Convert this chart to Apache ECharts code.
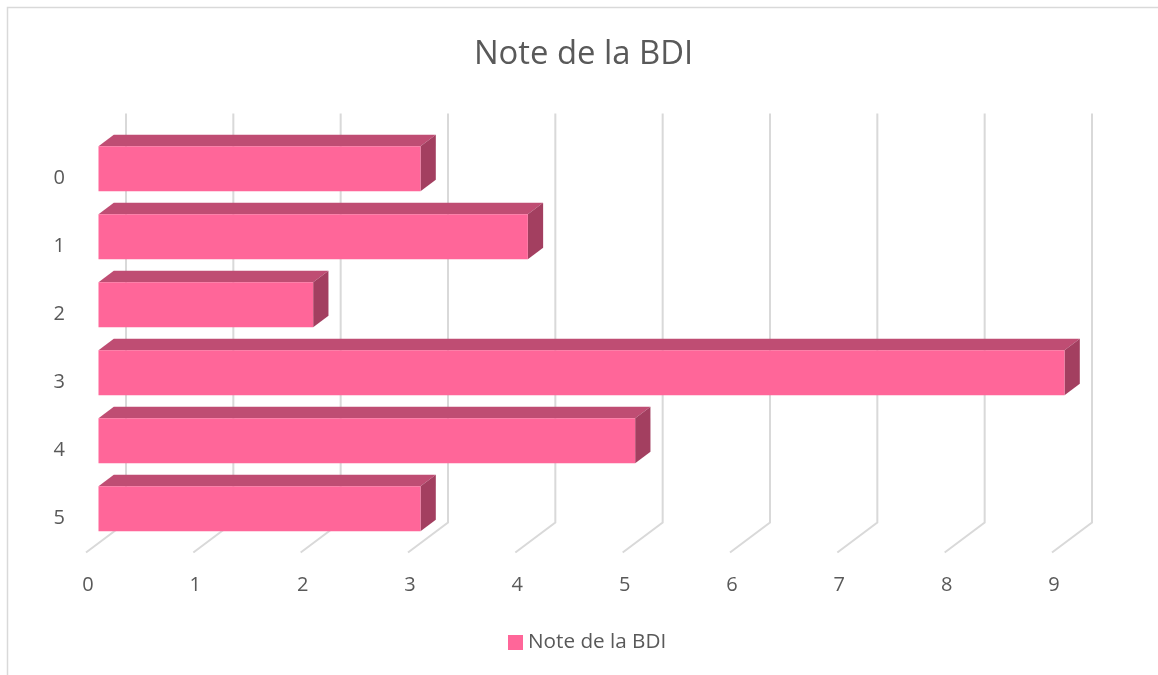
<!DOCTYPE html>
<html><head><meta charset="utf-8">
<style>html,body{margin:0;padding:0;background:#fff}#c{width:1158px;height:675px}</style>
<script src="https://cdn.jsdelivr.net/npm/echarts@6/dist/echarts.min.js"></script>
</head><body><div id="c"></div>
<script>
const titleText = 'Note de la BDI';
const categories = ['0','1','2','3','4','5'];
const values = [3,4,2,9,5,3];
const ticks = [0,1,2,3,4,5,6,7,8,9];
const FONT = '"Open Sans", sans-serif';
const TXT = '#595959', GRID = '#d9d9d9';
const FRONT = '#ff6699', TOP = '#bf4d73', SIDE = '#a33f60';

const chart = echarts.init(document.getElementById('c'), null, {renderer:'canvas'});

function gridItem(params, api){
  const cs = params.coordSys;
  const x = api.coord([api.value(0), 0])[0];
  const bottom = cs.y + cs.height;
  return {type:'group', children:[
    {type:'polyline', shape:{points:[[x,bottom],[x+40,bottom-30],[x+40,cs.y-31]]},
     style:{fill:null, stroke:GRID, lineWidth:2}}
  ]};
}
function barItem(params, api){
  const i = api.value(1);
  const p0 = api.coord([0,i]), p1 = api.coord([api.value(0),i]);
  const dx = 15.3, dy = 11.5, ox = 12.5, oy = -9.7, h = 45;
  const l = p0[0]+ox, r = p1[0]+ox, t = p0[1]+oy-h/2, b = t+h;
  return {type:'group', children:[
    {type:'polygon', shape:{points:[[l,t],[l+dx,t-dy],[r+dx,t-dy],[r,t]]}, style:{fill:TOP}},
    {type:'polygon', shape:{points:[[r,t],[r+dx,t-dy],[r+dx,b-dy],[r,b]]}, style:{fill:SIDE}},
    {type:'rect', shape:{x:l,y:t,width:r-l,height:h}, style:{fill:FRONT}}
  ]};
}

chart.setOption({
  animation:false,
  backgroundColor:'#fff',
  title:{text:titleText, left:578.5, top:33, textAlign:'center',
    textStyle:{fontFamily:FONT, fontSize:32.8, fontWeight:'normal', color:TXT}},
  legend:{data:[titleText], left:503, top:627, icon:'rect', itemWidth:15, itemHeight:15, itemGap:5,
    textStyle:{fontFamily:FONT, fontSize:20.7, color:TXT, padding:[0,0,0,0]}},
  grid:{left:86, right:106, top:144.5, height:408, containLabel:false},
  xAxis:{type:'value', min:0, max:9, interval:1, splitLine:{show:false},
    axisLine:{show:false}, axisTick:{show:false},
    axisLabel:{fontFamily:FONT, fontSize:20, color:TXT, margin:23, padding:[0,0,0,4]}},
  yAxis:{type:'category', inverse:true, data:categories,
    axisLine:{show:false}, axisTick:{show:false}, splitLine:{show:false},
    axisLabel:{fontFamily:FONT, fontSize:20, color:TXT, margin:21, padding:[2,0,0,0]}},
  graphic:[
    {type:'polyline', silent:true, shape:{points:[[7.5,675],[7.5,7.5],[1158,7.5]]},
     style:{fill:null, stroke:GRID, lineWidth:1.5}}
  ],
  series:[
    {type:'custom', name:'grid', coordinateSystem:'cartesian2d', silent:true, z:1, clip:false,
     renderItem:gridItem, encode:{x:0}, data:ticks.map(t=>[t,0])},
    {type:'custom', name:titleText, coordinateSystem:'cartesian2d', z:2, clip:false,
     itemStyle:{color:FRONT}, renderItem:barItem, encode:{x:0,y:1},
     data:values.map((v,i)=>[v,i])}
  ]
});
</script></body></html>
